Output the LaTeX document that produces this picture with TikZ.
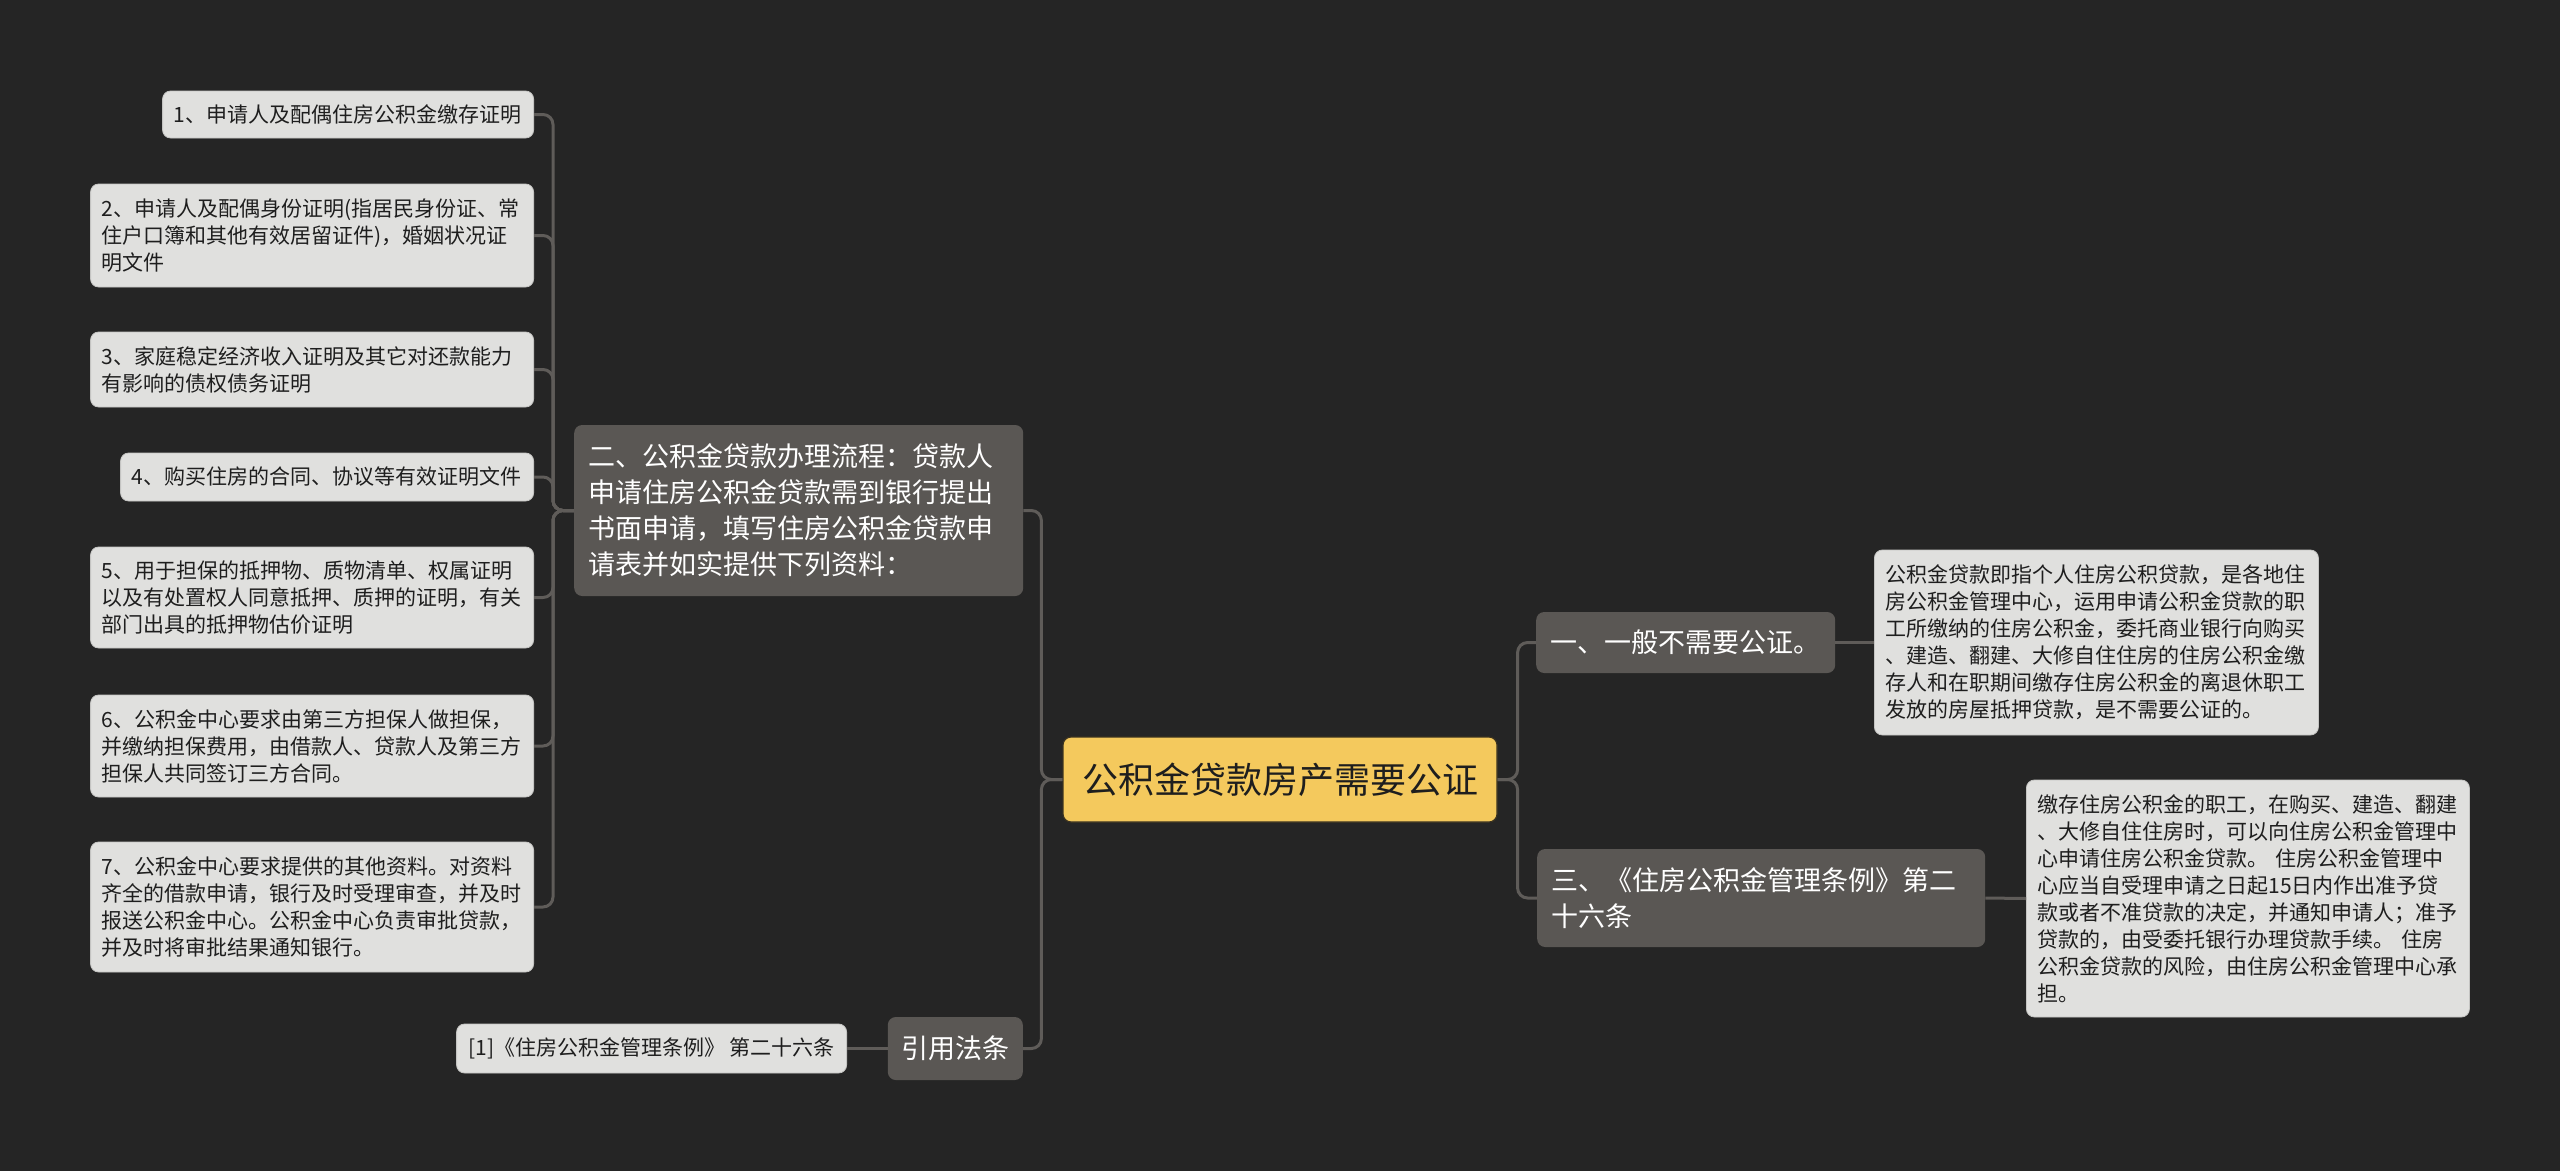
\documentclass[tikz,border=0pt]{standalone}
\usepackage{fontspec}
\newfontfamily\cjk{Noto Sans CJK SC}
\definecolor{bgc}{HTML}{252525}
\definecolor{lvlc}{HTML}{5A5754}
\definecolor{leafc}{HTML}{E0E0DE}
\definecolor{leafb}{HTML}{C4C4C2}
\definecolor{linec}{HTML}{5F5C59}
\definecolor{rootc}{HTML}{F4C95D}
\definecolor{rootb}{HTML}{3A3220}
\definecolor{darktext}{HTML}{1E1E1E}
\tikzset{
  leaf/.style={fill=leafc, draw=leafb, line width=0.8pt, rounded corners=8pt, text=darktext,
    font=\cjk\fontsize{21}{27}\selectfont, align=left, inner xsep=11pt, inner ysep=0pt},
  lvl/.style={fill=lvlc, rounded corners=8pt, text=white,
    font=\cjk\fontsize{27}{36}\selectfont, align=left, inner xsep=14pt, inner ysep=0pt},
  rootnode/.style={fill=rootc, draw=rootb, line width=1.2pt, rounded corners=8pt, text=darktext,
    font=\cjk\fontsize{36}{44}\selectfont, align=center, inner xsep=19pt, inner ysep=0pt},
  conn/.style={draw=linec, line width=3pt, rounded corners=10pt}
}
\begin{document}
\begin{tikzpicture}[x=1pt,y=-1pt]
\fill[bgc] (0,0) rectangle (2560,1171);
\useasboundingbox (0,0) rectangle (2560,1171);

% root
\node[rootnode, minimum width=434pt, minimum height=85pt] (root) at (1280,779.5) {公积金贷款房产需要公证};

% level 1
\node[lvl, anchor=west, text width=421pt, minimum height=171pt] (L2) at (574,510.5)
  {二、公积金贷款办理流程：贷款人\\申请住房公积金贷款需到银行提出\\书面申请，填写住房公积金贷款申\\请表并如实提供下列资料：};
\node[lvl, anchor=east, align=center, inner xsep=13pt, minimum width=135pt, minimum height=63pt] (Lref) at (1023,1048.5) {引用法条};
\node[lvl, anchor=west, text width=271pt, minimum height=61pt] (L1) at (1536,642.5) {一、一般不需要公证。};
\node[lvl, anchor=west, text width=420pt, minimum height=98pt] (L3) at (1537,898)
  {三、《住房公积金管理条例》第二\\十六条};

% left leaves
\node[leaf, anchor=east, text width=349pt, minimum height=47pt] (n1) at (534,114.5)
  {1、申请人及配偶住房公积金缴存证明};
\node[leaf, anchor=east, text width=421pt, minimum height=103pt] (n2) at (534,235.5)
  {2、申请人及配偶身份证明(指居民身份证、常\\住户口簿和其他有效居留证件)，婚姻状况证\\明文件};
\node[leaf, anchor=east, text width=421pt, minimum height=75pt] (n3) at (534,369.5)
  {3、家庭稳定经济收入证明及其它对还款能力\\有影响的债权债务证明};
\node[leaf, anchor=east, text width=391pt, minimum height=48pt] (n4) at (534,477)
  {4、购买住房的合同、协议等有效证明文件};
\node[leaf, anchor=east, text width=421pt, minimum height=101pt] (n5) at (534,597.5)
  {5、用于担保的抵押物、质物清单、权属证明\\以及有处置权人同意抵押、质押的证明，有关\\部门出具的抵押物估价证明};
\node[leaf, anchor=east, text width=421pt, minimum height=102pt] (n6) at (534,746)
  {6、公积金中心要求由第三方担保人做担保，\\并缴纳担保费用，由借款人、贷款人及第三方\\担保人共同签订三方合同。};
\node[leaf, anchor=east, text width=421pt, minimum height=130pt] (n7) at (534,907)
  {7、公积金中心要求提供的其他资料。对资料\\齐全的借款申请，银行及时受理审查，并及时\\报送公积金中心。公积金中心负责审批贷款，\\并及时将审批结果通知银行。};
\node[leaf, anchor=east, minimum width=390pt, minimum height=49pt, inner xsep=11.5pt] (ref1) at (847,1048.5)
  {[1]《住房公积金管理条例》 第二十六条};

% right leaves
\node[leaf, anchor=west, text width=422pt, minimum height=185pt] (r1) at (1874,642.5)
  {公积金贷款即指个人住房公积贷款，是各地住\\房公积金管理中心，运用申请公积金贷款的职\\工所缴纳的住房公积金，委托商业银行向购买\\、建造、翻建、大修自住住房的住房公积金缴\\存人和在职期间缴存住房公积金的离退休职工\\发放的房屋抵押贷款，是不需要公证的。};
\node[leaf, anchor=west, text width=421pt, minimum height=237pt] (r2) at (2026,898.5)
  {缴存住房公积金的职工，在购买、建造、翻建\\、大修自住住房时，可以向住房公积金管理中\\心申请住房公积金贷款。 住房公积金管理中\\心应当自受理申请之日起15日内作出准予贷\\款或者不准贷款的决定，并通知申请人；准予\\贷款的，由受委托银行办理贷款手续。 住房\\公积金贷款的风险，由住房公积金管理中心承\\担。};

% connectors
\foreach \c in {n1,n2,n3,n4,n5,n6,n7}{
  \draw[conn] (L2.west) -- ++(-21,0) |- (\c.east);
}
\draw[conn] (root.west) -- ++(-21,0) |- (L2.east);
\draw[conn] (root.west) -- ++(-21,0) |- (Lref.east);
\draw[conn] (Lref.west) -- (ref1.east);
\draw[conn] (root.east) -- ++(20,0) |- (L1.west);
\draw[conn] (root.east) -- ++(20,0) |- (L3.west);
\draw[conn] (L1.east) -- (r1.west);
\draw[conn] (L3.east) -- (r2.west);
\end{tikzpicture}
\end{document}
